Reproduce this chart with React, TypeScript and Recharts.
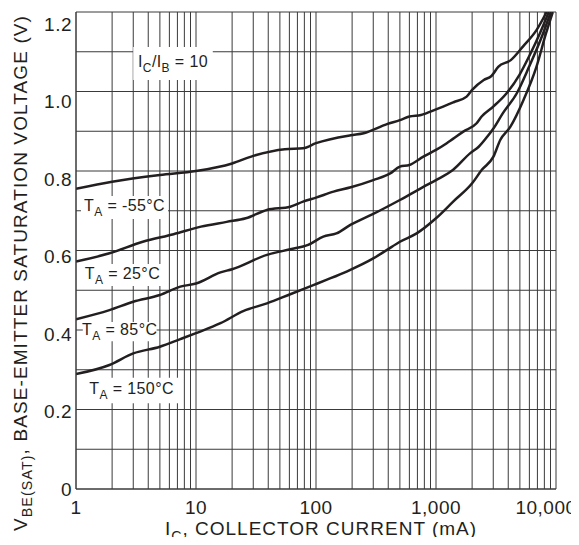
import React from "react";
import {
  LineChart,
  Line,
  XAxis,
  YAxis,
  CartesianGrid,
  ReferenceArea,
} from "recharts";

// ---- tick labels ----
const X_TICKS = [1, 10, 100, 1000, 10000];
const Y_TICKS = [0, 0.2, 0.4, 0.6, 0.8, 1.0, 1.2];

// ---- grid values ----
const X_GRID: number[] = [];
[1, 10, 100, 1000].forEach((d) => {
  for (let k = 1; k <= 9; k++) X_GRID.push(d * k);
});
X_GRID.push(10000);
const Y_GRID = [0, 0.1, 0.2, 0.3, 0.4, 0.5, 0.6, 0.7, 0.8, 0.9, 1.0, 1.1, 1.2];

// ---- series: T_A = -55°C ----
const IC_M55 = [1, 2, 5, 10, 20, 30, 55, 78, 100, 195, 250, 390, 500, 600, 750, 1000, 1400, 1800, 2000, 2500, 2900, 3300, 4200, 5300, 6900, 8360];
const VBE_M55 = [0.755, 0.773, 0.79, 0.8, 0.819, 0.838, 0.855, 0.857, 0.87, 0.89, 0.895, 0.918, 0.928, 0.937, 0.941, 0.955, 0.973, 0.987, 1.004, 1.029, 1.039, 1.062, 1.079, 1.113, 1.155, 1.2];

// ---- series: T_A = 25°C ----
const IC_25 = [1, 1.9, 3.6, 6.5, 11, 18, 26, 39, 61, 78, 100, 140, 195, 300, 415, 500, 600, 785, 1000, 1230, 1690, 2180, 2400, 3000, 3860, 4960, 5960, 7330, 8700];
const VBE_25 = [0.572, 0.593, 0.622, 0.641, 0.66, 0.672, 0.681, 0.702, 0.71, 0.723, 0.733, 0.748, 0.759, 0.777, 0.794, 0.811, 0.815, 0.836, 0.853, 0.87, 0.899, 0.92, 0.937, 0.962, 0.995, 1.042, 1.088, 1.146, 1.2];

// ---- series: T_A = 85°C ----
const IC_85 = [1, 1.9, 3, 5, 7.4, 10, 16, 20, 39, 61, 86, 115, 148, 195, 300, 500, 785, 1000, 1390, 1930, 2270, 2670, 3010, 3600, 4700, 5960, 7800, 9050];
const VBE_85 = [0.427, 0.45, 0.471, 0.488, 0.509, 0.517, 0.545, 0.553, 0.589, 0.603, 0.614, 0.635, 0.643, 0.665, 0.692, 0.727, 0.76, 0.777, 0.803, 0.845, 0.861, 0.886, 0.907, 0.945, 0.995, 1.062, 1.146, 1.2];

// ---- series: T_A = 150°C ----
const IC_150 = [1, 1.9, 3, 5, 7.4, 10, 16, 25, 39, 61, 95, 122, 180, 300, 388, 500, 690, 1000, 1390, 2000, 2410, 3010, 3430, 4160, 5350, 6870, 8250, 9400];
const VBE_150 = [0.289, 0.312, 0.341, 0.358, 0.377, 0.392, 0.417, 0.448, 0.467, 0.49, 0.513, 0.526, 0.547, 0.58, 0.601, 0.622, 0.643, 0.681, 0.723, 0.769, 0.803, 0.836, 0.878, 0.911, 0.978, 1.062, 1.146, 1.2];

const toPoints = (xs: number[], ys: number[]) => xs.map((x, i) => ({ x, v: ys[i] }));

const SERIES = [
  { name: "-55", data: toPoints(IC_M55, VBE_M55) },
  { name: "25", data: toPoints(IC_25, VBE_25) },
  { name: "85", data: toPoints(IC_85, VBE_85) },
  { name: "150", data: toPoints(IC_150, VBE_150) },
];

type Part = { t: string; sub?: boolean };

// annotation boxes (white background behind the in-plot labels)
const ANNOTATIONS: { x1: number; x2: number; y1: number; y2: number; parts: Part[] }[] = [
  { x1: 3.0, x2: 13.8, y1: 1.029, y2: 1.112, parts: [{ t: "I" }, { t: "C", sub: true }, { t: "/I" }, { t: "B", sub: true }, { t: " = 10" }] },
  { x1: 1.1, x2: 5.85, y1: 0.679, y2: 0.737, parts: [{ t: "T" }, { t: "A", sub: true }, { t: " = -55°C" }] },
  { x1: 1.12, x2: 5.3, y1: 0.511, y2: 0.566, parts: [{ t: "T" }, { t: "A", sub: true }, { t: " = 25°C" }] },
  { x1: 1.14, x2: 4.7, y1: 0.372, y2: 0.42, parts: [{ t: "T" }, { t: "A", sub: true }, { t: " = 85°C" }] },
  { x1: 1.19, x2: 7.1, y1: 0.216, y2: 0.28, parts: [{ t: "T" }, { t: "A", sub: true }, { t: " = 150°C" }] },
];

const FONT = "'Liberation Sans', Arial, Helvetica, sans-serif";
const INK = "#231f20";
const GRID = "#3a3a3a";

const scaleOf = (axis: any, v: number) => {
  const s = axis && axis.scale;
  if (!s) return 0;
  if (typeof s === "function") return s(v);
  if (typeof s.map === "function") return s.map(v);
  return 0;
};

const renderParts = (parts: Part[], fs: number) => {
  const out: React.ReactNode[] = [];
  let shifted = false;
  parts.forEach((p, i) => {
    if (p.sub) {
      out.push(
        <tspan key={i} dy={fs * 0.3} fontSize={fs * 0.75}>
          {p.t}
        </tspan>
      );
      shifted = true;
    } else {
      out.push(
        <tspan key={i} dy={shifted ? -fs * 0.3 : 0}>
          {p.t}
        </tspan>
      );
      shifted = false;
    }
  });
  return out;
};

const BoxLabel = (props: any) => {
  const vb = props.viewBox || {};
  const parts: Part[] = props.parts;
  const fs = 16;
  const cx = vb.x + vb.width / 2;
  const cy = vb.y + vb.height / 2 - 2;
  return (
    <text
      x={cx}
      y={cy + fs * 0.36}
      textAnchor="middle"
      fontFamily={FONT}
      fontSize={fs}
      letterSpacing={0.4}
      fill={INK}
    >
      {renderParts(parts, fs)}
    </text>
  );
};

const XTick = (props: any) => {
  const { x, y, payload } = props;
  const v = payload.value as number;
  const last = v === X_TICKS[X_TICKS.length - 1];
  return (
    <text
      x={x + (last ? -10 : 0)}
      y={y}
      dy="0.71em"
      textAnchor="middle"
      fontFamily={FONT}
      fontSize={19}
      letterSpacing={0.5}
      fill={INK}
    >
      {v.toLocaleString("en-US")}
    </text>
  );
};

const YTick = (props: any) => {
  const { x, y, payload } = props;
  const v = payload.value as number;
  return (
    <text
      x={x}
      y={y + v * 10.4}
      dominantBaseline="central"
      textAnchor="end"
      fontFamily={FONT}
      fontSize={19}
      letterSpacing={0.5}
      fill={INK}
    >
      {v === 0 ? "0" : v.toFixed(1)}
    </text>
  );
};

const YTitle = (props: any) => {
  const vb = props.viewBox || {};
  const cx = vb.x + 10.5;
  const cy = vb.y + vb.height / 2 + 22.5;
  const fs = 19;
  return (
    <text
      x={cx}
      y={cy}
      transform={`rotate(-90 ${cx} ${cy})`}
      textAnchor="middle"
      fontFamily={FONT}
      fontSize={fs}
      letterSpacing={1.1}
      fill={INK}
    >
      {renderParts(
        [{ t: "V" }, { t: "BE(SAT)", sub: true }, { t: ", BASE-EMITTER SATURATION VOLTAGE (V)" }],
        fs
      )}
    </text>
  );
};

const XTitle = (props: any) => {
  const vb = props.viewBox || {};
  const cx = vb.x + vb.width / 2 + 5;
  const cy = vb.y + 46;
  const fs = 19;
  return (
    <text
      x={cx}
      y={cy}
      textAnchor="middle"
      fontFamily={FONT}
      fontSize={fs}
      letterSpacing={1}
      fill={INK}
    >
      {renderParts([{ t: "I" }, { t: "C", sub: true }, { t: ", COLLECTOR CURRENT (mA)" }], fs)}
    </text>
  );
};

export default function App() {
  return (
    <div style={{ width: 563, height: 529, fontFamily: FONT, background: "#fff", overflow: "visible" }}>
      <LineChart
        width={571}
        height={537}
        margin={{ top: 4, right: 23, bottom: 8, left: 8 }}
      >
        <CartesianGrid
          stroke={GRID}
          strokeWidth={1}
          horizontalCoordinatesGenerator={({ yAxis }: any) => Y_GRID.map((v) => scaleOf(yAxis, v))}
          verticalCoordinatesGenerator={({ xAxis }: any) => X_GRID.map((v) => scaleOf(xAxis, v))}
        />
        <XAxis
          dataKey="x"
          type="number"
          scale="log"
          domain={[1, 10000]}
          ticks={X_TICKS}
          allowDataOverflow
          height={48}
          tickSize={0}
          tickMargin={12}
          tickLine={false}
          axisLine={{ stroke: GRID, strokeWidth: 1 }}
          tick={<XTick />}
          interval={0}
          label={<XTitle />}
        />
        <YAxis
          type="number"
          domain={[0, 1.2]}
          ticks={Y_TICKS}
          allowDataOverflow
          width={60}
          tickSize={0}
          tickMargin={4}
          tickLine={false}
          axisLine={{ stroke: GRID, strokeWidth: 1 }}
          tick={<YTick />}
          interval={0}
          label={<YTitle />}
        />
        {ANNOTATIONS.map((a, i) => (
          <ReferenceArea
            key={i}
            x1={a.x1}
            x2={a.x2}
            y1={a.y1}
            y2={a.y2}
            fill="#ffffff"
            fillOpacity={1}
            stroke="none"
            label={<BoxLabel parts={a.parts} />}
          />
        ))}
        {SERIES.map((s) => (
          <Line
            key={s.name}
            data={s.data}
            dataKey="v"
            type="monotone"
            stroke={INK}
            strokeWidth={2.5}
            dot={false}
            activeDot={false}
            isAnimationActive={false}
          />
        ))}
      </LineChart>
    </div>
  );
}
